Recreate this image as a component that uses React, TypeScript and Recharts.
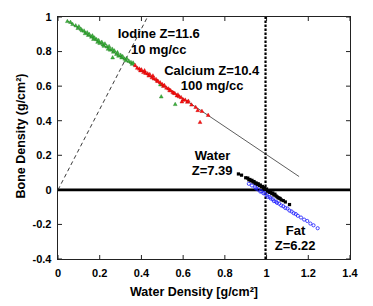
import React from 'react';
import { ScatterChart, Scatter, XAxis, YAxis, ReferenceLine, ReferenceDot } from 'recharts';

const FONT = '"Liberation Sans", Arial, Helvetica, sans-serif';

const xDomain: [number, number] = [0, 1.4];
const yDomain: [number, number] = [-0.4, 1];
const xTicks = [0, 0.2, 0.4, 0.6, 0.8, 1, 1.2, 1.4];
const yTicks = [-0.4, -0.2, 0, 0.2, 0.4, 0.6, 0.8, 1];

const iodine: [number, number][] = [
  [0.045, 0.975], [0.06, 0.97], [0.07, 0.958], [0.085, 0.95], [0.095, 0.935], [0.1, 0.945],
  [0.11, 0.93], [0.115, 0.922], [0.125, 0.92], [0.13, 0.905], [0.14, 0.91], [0.145, 0.895],
  [0.15, 0.9], [0.16, 0.885], [0.165, 0.892], [0.17, 0.872], [0.175, 0.88], [0.185, 0.87],
  [0.19, 0.855], [0.195, 0.865], [0.2, 0.848], [0.21, 0.855], [0.215, 0.84], [0.22, 0.832],
  [0.225, 0.845], [0.235, 0.828], [0.24, 0.815], [0.245, 0.83], [0.25, 0.81], [0.26, 0.815],
  [0.265, 0.798], [0.27, 0.805], [0.28, 0.785], [0.285, 0.795], [0.29, 0.775], [0.3, 0.78],
  [0.305, 0.765], [0.31, 0.772], [0.32, 0.758], [0.325, 0.748], [0.33, 0.76], [0.34, 0.745],
  [0.35, 0.738], [0.355, 0.728], [0.36, 0.735], [0.262, 0.765], [0.491, 0.609], [0.495, 0.539],
  [0.562, 0.495],
];

const calcium: [number, number][] = [
  [0.37, 0.72], [0.38, 0.705], [0.39, 0.7], [0.395, 0.69], [0.4, 0.695], [0.41, 0.68],
  [0.415, 0.69], [0.42, 0.675], [0.43, 0.672], [0.435, 0.66], [0.44, 0.668], [0.45, 0.65],
  [0.455, 0.66], [0.46, 0.643], [0.47, 0.64], [0.475, 0.63], [0.48, 0.628], [0.49, 0.62],
  [0.5, 0.61], [0.505, 0.6], [0.51, 0.605], [0.52, 0.59], [0.53, 0.585], [0.535, 0.575],
  [0.54, 0.575], [0.55, 0.565], [0.555, 0.56], [0.56, 0.558], [0.57, 0.545], [0.575, 0.55],
  [0.58, 0.54], [0.59, 0.535], [0.6, 0.522], [0.61, 0.52], [0.62, 0.508], [0.625, 0.514],
  [0.64, 0.492], [0.66, 0.478], [0.67, 0.46], [0.69, 0.455], [0.72, 0.432], [0.681, 0.391],
  [0.594, 0.51],
];

const water: [number, number][] = [
  [0.865, 0.092], [0.88, 0.085], [0.9, 0.07], [0.91, 0.068], [0.915, 0.058], [0.92, 0.06],
  [0.925, 0.052], [0.93, 0.055], [0.935, 0.045], [0.94, 0.048], [0.945, 0.038], [0.95, 0.04],
  [0.955, 0.032], [0.96, 0.035], [0.965, 0.025], [0.97, 0.028], [0.975, 0.018], [0.98, 0.02],
  [0.985, 0.01], [0.99, 0.012], [0.995, 0.002], [1.0, 0.005], [1.005, -0.008], [1.01, -0.005],
  [1.015, -0.015], [1.02, -0.012], [1.025, -0.022], [1.03, -0.018], [1.035, -0.03], [1.04, -0.025],
  [1.045, -0.035], [1.05, -0.04], [1.055, -0.045], [1.06, -0.048], [1.065, -0.05], [1.07, -0.058],
  [1.08, -0.062], [1.09, -0.07], [1.11, -0.085],
];

const fat: [number, number][] = [
  [0.915, 0.035], [0.93, 0.025], [0.945, 0.015], [0.95, 0.008], [0.96, 0.002], [0.97, -0.01],
  [0.975, -0.008], [0.985, -0.02], [0.99, -0.018], [1.0, -0.03], [1.005, -0.04], [1.015, -0.042],
  [1.02, -0.05], [1.03, -0.055], [1.035, -0.065], [1.045, -0.068], [1.05, -0.075], [1.06, -0.08],
  [1.07, -0.09], [1.08, -0.095], [1.09, -0.105], [1.1, -0.108], [1.11, -0.12], [1.12, -0.125],
  [1.13, -0.135], [1.14, -0.14], [1.15, -0.15], [1.165, -0.16], [1.18, -0.172], [1.195, -0.18],
  [1.21, -0.195], [1.225, -0.205], [1.245, -0.222],
];

const fitLine = [{ x: 0.043, y: 0.98 }, { x: 1.156, y: 0.077 }];
const originLine = [{ x: 0, y: 0 }, { x: 0.429, y: 1 }];
const waterRefX = 0.995;

const annotations = [
  { x: 0.483, y: 0.908, text: 'Iodine Z=11.6' },
  { x: 0.483, y: 0.815, text: '10 mg/cc' },
  { x: 0.737, y: 0.694, text: 'Calcium Z=10.4' },
  { x: 0.739, y: 0.607, text: '100 mg/cc' },
  { x: 0.741, y: 0.197, text: 'Water' },
  { x: 0.739, y: 0.112, text: 'Z=7.39' },
  { x: 1.139, y: -0.237, text: 'Fat' },
  { x: 1.137, y: -0.322, text: 'Z=6.22' },
];

const toPts = (a: [number, number][]) => a.map(([x, y]) => ({ x, y }));

// inward tick length as a fraction of each axis span (~4px)
const TICK_FRAC_X = 4 / 292;
const TICK_FRAC_Y = 4 / 242;

const Tri = (color: string, edge: string) => (p: any) => {
  const { cx, cy } = p;
  return (
    <polygon
      points={`${cx},${cy - 2.1} ${cx - 1.9},${cy + 1.3} ${cx + 1.9},${cy + 1.3}`}
      fill={color}
      stroke={edge}
      strokeWidth={0.4}
    />
  );
};
const Sq = (p: any) => <rect x={p.cx - 1.6} y={p.cy - 1.6} width={3.2} height={3.2} fill="#000" />;
const Circ = (p: any) => <circle cx={p.cx} cy={p.cy} r={1.6} fill="none" stroke="#1a1aff" strokeWidth={0.8} />;

const tickStyle = { fontSize: 11, fontWeight: 'bold', fill: '#000', fontFamily: FONT };
const frameColor = '#222';

const YLabel = (props: any) => {
  const vb = props.viewBox || { x: 0, y: 17, width: 58, height: 242 };
  const cx = vb.x + 21;
  const cy = vb.y + vb.height / 2 - 2;
  return (
    <text x={cx} y={cy} transform={`rotate(-90 ${cx} ${cy})`} textAnchor="middle" dominantBaseline="central"
      fontFamily={FONT} fontWeight="bold" fontSize={12.5} fill="#000">
      Bone Density (g/cm²)
    </text>
  );
};
const XLabel = (props: any) => {
  const vb = props.viewBox || { x: 58, y: 259, width: 292, height: 47 };
  const cx = vb.x + vb.width / 2 - 10;
  const cy = vb.y + 33;
  return (
    <text x={cx} y={cy} textAnchor="middle" dominantBaseline="central"
      fontFamily={FONT} fontWeight="bold" fontSize={12.5} fill="#000">
      Water Density [g/cm²]
    </text>
  );
};

export default function App() {
  const dx = (xDomain[1] - xDomain[0]) * TICK_FRAC_X;
  const dy = (yDomain[1] - yDomain[0]) * TICK_FRAC_Y;
  const segs: { x: number; y: number }[][] = [];
  xTicks.forEach((t) => {
    segs.push([{ x: t, y: yDomain[0] }, { x: t, y: yDomain[0] + dy }]);
    segs.push([{ x: t, y: yDomain[1] }, { x: t, y: yDomain[1] - dy }]);
  });
  yTicks.forEach((t) => {
    segs.push([{ x: xDomain[0], y: t }, { x: xDomain[0] + dx, y: t }]);
    segs.push([{ x: xDomain[1], y: t }, { x: xDomain[1] - dx, y: t }]);
  });
  return (
    <div style={{ position: 'absolute', left: 0, top: 0, width: 373, height: 306, background: '#fff' }}>
      <ScatterChart width={373} height={306} margin={{ top: 17, right: 23, bottom: 0, left: 0 }}>
        <XAxis
          type="number"
          dataKey="x"
          domain={xDomain}
          ticks={xTicks}
          allowDataOverflow
          height={47}
          tickSize={0}
          tickMargin={10}
          tick={tickStyle}
          axisLine={false}
          tickLine={false}
          label={{ content: XLabel }}
        />
        <YAxis
          type="number"
          dataKey="y"
          domain={yDomain}
          ticks={yTicks}
          allowDataOverflow
          width={58}
          tickSize={0}
          tickMargin={6.5}
          tick={tickStyle}
          axisLine={false}
          tickLine={false}
          label={{ content: YLabel }}
        />
        {segs.map((s, i) => (
          <ReferenceLine key={'f' + i} segment={s} stroke={frameColor} strokeWidth={1} />
        ))}
        <ReferenceLine y={0} stroke="#000" strokeWidth={2.6} />
        <ReferenceLine x={waterRefX} stroke="#000" strokeWidth={2.2} strokeDasharray="2.5 1.5" />
        <ReferenceLine segment={originLine} stroke="#222" strokeWidth={0.9} strokeDasharray="4 3" />
        <ReferenceLine segment={fitLine} stroke="#333" strokeWidth={0.8} />
        <Scatter data={toPts(iodine)} shape={Tri('#3cb43c', '#1e7a1e')} isAnimationActive={false} />
        <Scatter data={toPts(calcium)} shape={Tri('#ff1010', '#c00000')} isAnimationActive={false} />
        <Scatter data={toPts(water)} shape={Sq} isAnimationActive={false} />
        <Scatter data={toPts(fat)} shape={Circ} isAnimationActive={false} />
        {annotations.map((a, i) => (
          <ReferenceDot
            key={i}
            x={a.x}
            y={a.y}
            r={0}
            fill="none"
            stroke="none"
            label={{ value: a.text, position: 'center', fill: '#000', fontSize: 13, fontWeight: 'bold', fontFamily: FONT }}
          />
        ))}
      </ScatterChart>
      <div
        style={{
          position: 'absolute',
          left: 57,
          top: 16,
          width: 294,
          height: 244,
          boxSizing: 'border-box',
          border: `1px solid ${frameColor}`,
          pointerEvents: 'none',
        }}
      />
    </div>
  );
}
